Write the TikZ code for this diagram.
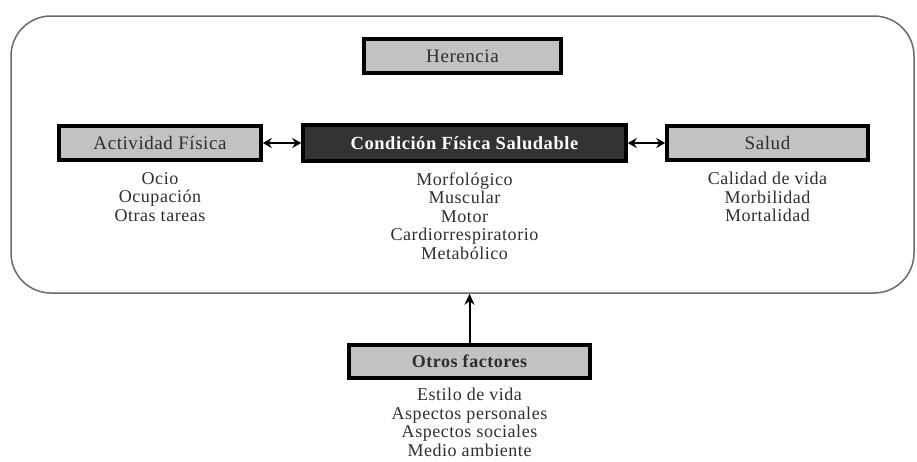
\documentclass[tikz,border=0pt]{standalone}
\usepackage{fontspec}
\setmainfont{Liberation Serif}[LetterSpace=3]
\usetikzlibrary{arrows.meta}
\definecolor{boxgray}{HTML}{C2C2C2}
\definecolor{boxdark}{HTML}{333333}
\definecolor{framegray}{HTML}{6A6A6A}
\definecolor{txtgray}{HTML}{2E2E2E}
\tikzset{
  graybox/.style={draw=black, line width=3.5pt, fill=boxgray, text=txtgray,
    inner sep=0pt, font=\fontsize{19}{20}\selectfont},
  darkbox/.style={draw=black, line width=3.5pt, fill=boxdark, text=white,
    inner sep=0pt, font=\fontsize{18.5}{20}\selectfont\bfseries},
  sublist/.style={align=center, inner sep=0pt, text=txtgray,
    font=\fontsize{18}{18.5}\selectfont},
  link/.style={line width=2.2pt, {Stealth[length=9pt,width=10pt]}-{Stealth[length=9pt,width=10pt]}},
  uplink/.style={line width=2pt, -{Stealth[length=11pt,width=10pt]}},
}
\begin{document}
\begin{tikzpicture}[x=1pt,y=-1pt]
\useasboundingbox (0,0) rectangle (917,461);
\node[draw=framegray, line width=1.5pt, rounded corners=40pt,
      minimum width=903pt, minimum height=277pt, inner sep=0pt] (frame) at (462.5,154.5) {};
\node[graybox, minimum width=197pt, minimum height=34pt] (her) at (462.5,56) {Herencia};
\node[graybox, minimum width=202pt, minimum height=34pt] (act) at (160,143) {Actividad Física};
\node[darkbox, minimum width=323pt, minimum height=36pt] (cfs) at (464.5,143) {Condición Física Saludable};
\node[graybox, minimum width=201pt, minimum height=34pt] (sal) at (767.5,143) {Salud};
\node[graybox, minimum width=241pt, minimum height=33pt, font=\fontsize{18}{20}\selectfont\bfseries] (otr) at (469.5,361.5) {Otros factores};
\node[sublist] (actl) at (160,197) {Ocio\\Ocupación\\Otras tareas};
\node[sublist] (cfsl) at (464.5,216) {Morfológico\\Muscular\\Motor\\Cardiorrespiratorio\\Metabólico};
\node[sublist] (sall) at (767.5,197) {Calidad de vida\\Morbilidad\\Mortalidad};
\node[sublist] (otrl) at (469.5,422.5) {Estilo de vida\\Aspectos personales\\Aspectos sociales\\Medio ambiente};
\draw[link] (act.east) -- (cfs.west);
\draw[link] (cfs.east) -- (sal.west);
\draw[uplink] (otr.north) -- (otr.north |- frame.south);
\end{tikzpicture}
\end{document}
